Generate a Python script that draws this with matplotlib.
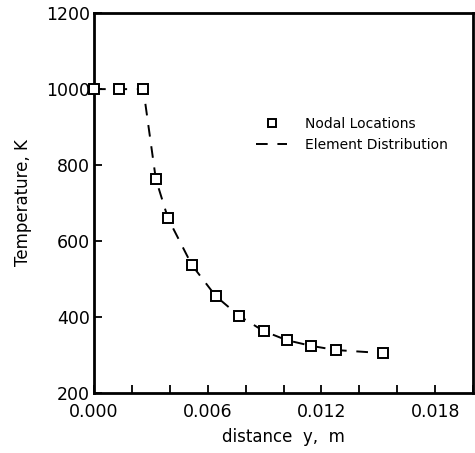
import matplotlib
matplotlib.use("Agg")
import matplotlib.pyplot as plt
from matplotlib.ticker import MultipleLocator

# nodal locations
distance_y = [0.0, 0.0013, 0.0026, 0.00326, 0.0039, 0.00516, 0.00642,
              0.00765, 0.00895, 0.01017, 0.01146, 0.01277, 0.01523]
temperature = [1000, 1000, 1000, 763, 660, 537, 455,
               403, 363, 339, 324, 313, 305]

x_ticks = [0.000, 0.006, 0.012, 0.018]
x_tick_labels = ["0.000", "0.006", "0.012", "0.018"]
y_ticks = [200, 400, 600, 800, 1000, 1200]

fig = plt.figure(figsize=(4.75, 4.53), dpi=100)
ax = fig.add_axes([0.198, 0.1325, 0.798, 0.8385])

# dashed element distribution
ax.plot(distance_y, temperature, color="black", ls=(0, (6, 5)), lw=1.4,
        label="Element Distribution", zorder=2)
# nodal squares
ax.plot(distance_y, temperature, ls="none", marker="s", ms=7,
        mfc="white", mec="black", mew=1.4, label="Nodal Locations",
        clip_on=False, zorder=3)

ax.set_xlim(0, 0.020)
ax.set_ylim(200, 1200)
ax.set_xticks(x_ticks)
ax.set_xticklabels(x_tick_labels)
ax.xaxis.set_minor_locator(MultipleLocator(0.002))
ax.set_yticks(y_ticks)

ax.tick_params(which="both", direction="in", labelsize=12.5, width=1.3,
               top=False, right=False)
ax.tick_params(axis="x", pad=7)
ax.tick_params(axis="y", pad=3)
ax.tick_params(which="major", length=6)
ax.tick_params(which="minor", length=6)
for s in ax.spines.values():
    s.set_linewidth(2)

ax.set_xlabel("distance  y,  m", fontsize=12, labelpad=5)
ax.set_ylabel("Temperature, K", fontsize=12, labelpad=10)

# legend placed like the original
h, l = ax.get_legend_handles_labels()
leg = ax.legend([h[1], h[0]], [l[1], l[0]], loc="center left",
                bbox_to_anchor=(0.395, 0.68), frameon=False, fontsize=10,
                handlelength=2.2, handletextpad=1.3, labelspacing=0.5,
                markerscale=0.75)

fig.savefig("out.png", dpi=100)
